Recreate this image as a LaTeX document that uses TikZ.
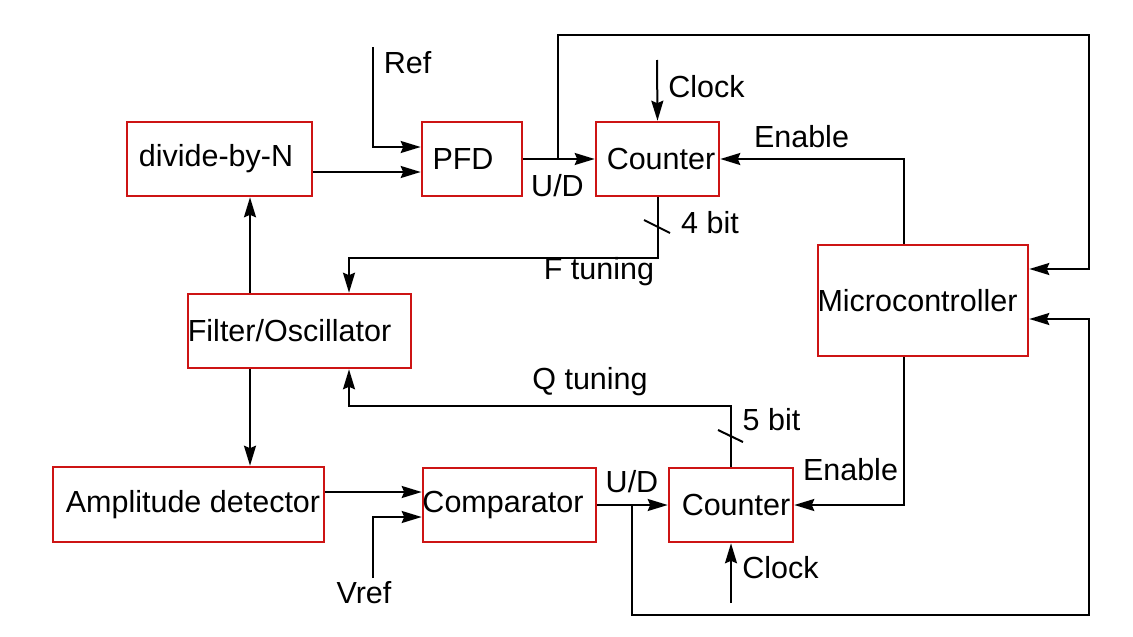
\documentclass[tikz,border=0pt]{standalone}
\usepackage{fontspec}
\setmainfont{Liberation Sans}
\usetikzlibrary{arrows.meta}
\definecolor{boxred}{RGB}{205,20,20}
\begin{document}
\begin{tikzpicture}[x=1pt,y=-1pt,
  font=\fontsize{30.5}{36}\selectfont,
  box/.style={draw=boxred,line width=2.6pt,rectangle,inner sep=0pt,fill=white},
  wire/.style={draw=black,line width=2pt},
  arr/.style={wire,-{Stealth[length=20pt,width=12pt,inset=2.5pt]}},
  lbl/.style={inner sep=0pt,anchor=center},
  slash/.style={draw=black,line width=2pt}]
\useasboundingbox[fill=white] (0,0) rectangle (1133,637);
% boxes
\node[box,minimum width=185pt,minimum height=74pt] (div) at (219.5,159) {\hspace*{-7pt}divide-by-N};
\node[box,minimum width=100pt,minimum height=74pt] (pfd) at (472,159) {\hspace*{-18pt}PFD};
\node[box,minimum width=123pt,minimum height=74pt] (cnt1) at (657.5,159) {\hspace*{7pt}Counter};
\node[box,minimum width=210pt,minimum height=111pt] (mcu) at (923,300.5) {\hspace*{-11pt}Microcontroller};
\node[box,minimum width=223pt,minimum height=74pt] (filt) at (299.5,331) {\hspace*{-20pt}Filter/Oscillator};
\node[box,minimum width=271pt,minimum height=75pt] (amp) at (188.5,504.5) {\hspace*{9pt}Amplitude detector};
\node[box,minimum width=173pt,minimum height=74pt] (cmp) at (509.5,505) {\hspace*{-13pt}Comparator};
\node[box,minimum width=124pt,minimum height=74pt] (cnt2) at (731,505) {\hspace*{10pt}Counter};
% coordinates
\coordinate (refin) at (373,47);
\coordinate (p1) at ([yshift=12pt]pfd.west);
\coordinate (d1) at ([yshift=-13pt]div.east);
\coordinate (br1) at (558,158);
\coordinate (tr) at (1089,35);
\coordinate (m1) at ([yshift=31.5pt]mcu.east);
\coordinate (ck1) at (657,60);
\coordinate (mt) at ([xshift=-19pt]mcu.north);
\coordinate (mb) at ([xshift=-19pt]mcu.south);
\coordinate (f1) at ([xshift=49.5pt]filt.north);
\coordinate (f2) at ([xshift=49.5pt]filt.south);
\coordinate (fu) at ([xshift=-49.5pt]filt.north);
\coordinate (fd) at ([xshift=-49.5pt]filt.south);
\coordinate (a1) at ([yshift=12.5pt]amp.east);
\coordinate (vr) at (373,578);
\coordinate (c2) at ([yshift=-12pt]cmp.west);
\coordinate (br2) at (632,505);
\coordinate (brr) at (1089,615);
\coordinate (m2) at ([yshift=-18.5pt]mcu.east);
\coordinate (ck2) at (731,603);
% connectors
\draw[arr] (refin) |- (p1);
\draw[arr] (d1) -- (d1 -| pfd.west);
\draw[arr] (pfd.east) -- (cnt1.west);
\draw[arr] (br1) |- (tr) |- (m1);
\draw[arr] (ck1) -- (cnt1.north);
\draw[arr] (mt) |- (cnt1.east);
\draw[arr] (cnt1.south) -- ++(0,61) -| (f1);
\draw[arr] (cnt2.north) -- ++(0,-61) -| (f2);
\draw[arr] (fu) -- (fu |- div.south);
\draw[arr] (fd) -- (fd |- amp.north);
\draw[arr] (a1) -- (a1 -| cmp.west);
\draw[arr] (vr) |- (c2);
\draw[arr] (cmp.east) -- (cnt2.west);
\draw[arr] (br2) |- (brr) |- (m2);
\draw[arr] (mb) |- (cnt2.east);
\draw[arr] (ck2) -- (cnt2.south);
% bus slashes
\draw[slash] (644,220) -- (670,233);
\draw[slash] (718,430) -- (743,442);
% labels
\node[lbl] (lref) at (407.5,63) {Ref};
\node[lbl] (lud1) at (557.5,186) {U/D};
\node[lbl] (lck1) at (706.5,87) {Clock};
\node[lbl] (len1) at (801.5,137) {Enable};
\node[lbl] (l4b) at (710,223) {4 bit};
\node[lbl] (lft) at (599,272) {F tuning};
\node[lbl] (lqt) at (590,382) {Q tuning};
\node[lbl] (l5b) at (771.5,420) {5 bit};
\node[lbl] (len2) at (850.5,470) {Enable};
\node[lbl] (lud2) at (632,482) {U/D};
\node[lbl] (lck2) at (780.5,568) {Clock};
\node[lbl] (lvref) at (364,593) {Vref};
\end{tikzpicture}
\end{document}
